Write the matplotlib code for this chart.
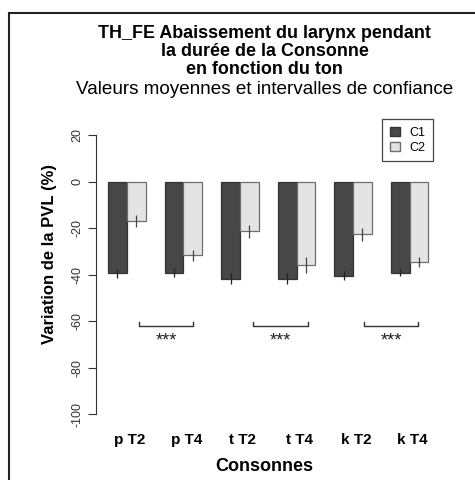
import matplotlib.pyplot as plt
from matplotlib.lines import Line2D
from matplotlib.patches import Rectangle

plt.rcParams['font.family'] = ['Liberation Sans', 'DejaVu Sans']

# Data
consonnes = ['p T2', 'p T4', 't T2', 't T4', 'k T2', 'k T4']
c1_means = [-39.5, -39.1, -41.7, -41.7, -40.5, -39.1]
c2_means = [-17.1, -31.7, -21.3, -36.0, -22.7, -34.5]
c1_err = [2.0, 2.0, 2.5, 2.5, 2.0, 1.5]
c2_err = [2.6, 2.3, 2.8, 3.5, 2.8, 2.2]
yticks = [20, 0, -20, -40, -60, -80, -100]
signif = ['***', '***', '***']

W, H = 475, 480
fig = plt.figure(figsize=(W / 100, H / 100), dpi=100)

# plot region in pixels (left, right, top, bottom)
L, R, T, B = 96, 433, 119, 425.8
ax = fig.add_axes([L / W, (H - B) / H, (R - L) / W, (B - T) / H])
ax.set_xlim(0.363, 18.24)
ax.set_ylim(-105, 26.9)

dark = '#474747'
light = '#e4e4e4'

x1 = [3 * i + 1.5 for i in range(len(consonnes))]
x2 = [3 * i + 2.5 for i in range(len(consonnes))]
ax.bar(x1, c1_means, width=1, color=dark, edgecolor='#333333', linewidth=0.9)
ax.bar(x2, c2_means, width=1, color=light, edgecolor='#6e6e6e', linewidth=0.9)
ax.vlines(x1, [m - e for m, e in zip(c1_means, c1_err)],
          [m + e for m, e in zip(c1_means, c1_err)], color='#222222', lw=0.9)
ax.vlines(x2, [m - e for m, e in zip(c2_means, c2_err)],
          [m + e for m, e in zip(c2_means, c2_err)], color='#444444', lw=0.9)

# significance brackets between tones
brackets = [(2.65, 5.5), (8.7, 11.6), (14.6, 17.45)]
for (a, b), s in zip(brackets, signif):
    ax.plot([a, a, b, b], [-60.2, -62.1, -62.1, -60.2], color='#333333', lw=1)
    ax.text((a + b) / 2, -68.5, s, ha='center', va='center', fontsize=13, color='#222222')

# axes styling, R-like
for sp in ['top', 'right', 'bottom']:
    ax.spines[sp].set_visible(False)
ax.spines['left'].set_bounds(-100, 20)
ax.spines['left'].set_color('#333333')
ax.set_yticks(yticks)
ax.set_yticklabels([str(v) for v in yticks], rotation=90, va='center', fontsize=9, color='#333333')
ax.tick_params(axis='y', length=6, color='#333333', pad=3)
ax.set_xticks([3 * i + 2.15 for i in range(len(consonnes))])
ax.set_xticklabels(consonnes, fontweight='bold', fontsize=11)
ax.tick_params(axis='x', length=0, pad=5)
ax.set_xlabel('Consonnes', fontweight='bold', fontsize=13, labelpad=8)
fig.text(50 / W, 1 - 254 / H, 'Variation de la PVL (%)', rotation=90, ha='center',
         va='center', fontweight='bold', fontsize=12)

# titles
cx = (L + R) / 2 / W
fig.text(cx, 1 - 33 / H, 'TH_FE Abaissement du larynx pendant', ha='center', va='center',
         fontweight='bold', fontsize=12.9)
fig.text(cx, 1 - 52 / H, 'la durée de la Consonne', ha='center', va='center',
         fontweight='bold', fontsize=12.9)
fig.text(cx, 1 - 70 / H, 'en fonction du ton', ha='center', va='center',
         fontweight='bold', fontsize=12.9)
fig.text(cx, 1 - 90 / H, 'Valeurs moyennes et intervalles de confiance', ha='center',
         va='center', fontsize=13.6)

# legend box
leg = ax.legend(handles=[Rectangle((0, 0), 1, 1, facecolor=dark, edgecolor='#333333'),
                         Rectangle((0, 0), 1, 1, facecolor=light, edgecolor='#6e6e6e')],
                labels=['C1', 'C2'], loc='upper right', bbox_to_anchor=(1.0, 1.0),
                fontsize=9, handlelength=0.8, handleheight=0.8, handletextpad=0.8,
                borderpad=0.6, labelspacing=0.25, fancybox=False, framealpha=1,
                borderaxespad=0)
leg.get_frame().set_edgecolor('#444444')
leg.get_frame().set_linewidth(0.9)

# outer frame (left and top edges visible)
fig.add_artist(Line2D([9 / W, 9 / W], [0, 1 - 13 / H], color='#222222', lw=1.5))
fig.add_artist(Line2D([9 / W, 1], [1 - 13 / H, 1 - 13 / H], color='#222222', lw=1.5))

fig.savefig('out.png', dpi=100)
